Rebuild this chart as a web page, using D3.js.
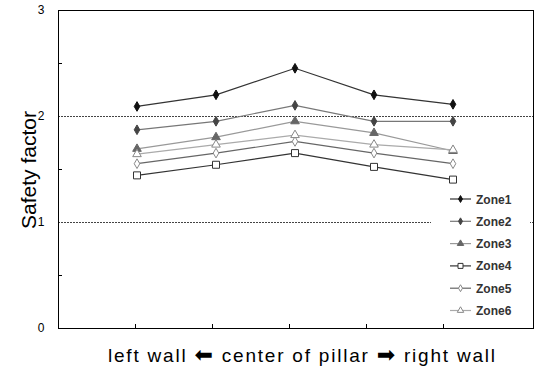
<!DOCTYPE html>
<html><head><meta charset="utf-8">
<script src="https://cdn.jsdelivr.net/npm/d3@7/dist/d3.min.js"></script>
<style>body{margin:0;background:#fff}svg{display:block}</style>
</head><body>
<svg id="c" width="536" height="372"></svg>
<script>
const positions = ["p1","p2","p3","p4","p5"];
const zone1 = [2.09, 2.20, 2.45, 2.20, 2.11];
const zone2 = [1.87, 1.95, 2.10, 1.95, 1.95];
const zone3 = [1.69, 1.80, 1.95, 1.84, 1.67];
const zone4 = [1.44, 1.54, 1.65, 1.52, 1.40];
const zone5 = [1.55, 1.65, 1.76, 1.65, 1.55];
const zone6 = [1.64, 1.73, 1.82, 1.73, 1.68];
const seriesNames = ["Zone1","Zone2","Zone3","Zone4","Zone5","Zone6"];
const yTickLabels = [0, 1, 2, 3];
const xTitleParts = ["left wall ", "\u2B05", " center of pillar ", "\u27A1", " right wall"];
const yTitle = "Safety factor";

const styles = [
  {line:"#333", marker:"diamond", fill:"#111", stroke:"#111", size:7},
  {line:"#777", marker:"diamond", fill:"#444", stroke:"#444", size:7},
  {line:"#999", marker:"triangle", fill:"#666", stroke:"#666", size:8},
  {line:"#333", marker:"square", fill:"#fff", stroke:"#333", size:7},
  {line:"#666", marker:"diamond", fill:"#fff", stroke:"#888", size:7},
  {line:"#aaa", marker:"triangle", fill:"#fff", stroke:"#888", size:8}
];
const data = [zone1, zone2, zone3, zone4, zone5, zone6];

const svg = d3.select("#c");
const L = 58, R = 533, T = 10, B = 328;
const x = d3.scalePoint().domain(positions).range([L, R - 1]).padding(1);
const xt = d3.scaleLinear().domain([0, 6]).range([L, 520]);
const y = d3.scaleLinear().domain([0, 3]).range([B, T]);

// gridlines
svg.append("g").selectAll("line").data([1, 2]).join("line")
  .attr("x1", L).attr("x2", R).attr("y1", d => Math.round(y(d)) + 0.5).attr("y2", d => Math.round(y(d)) + 0.5)
  .attr("stroke", "#444").attr("stroke-width", 1).attr("stroke-dasharray", "2,1");

// minor ticks on y axis (inside)
svg.append("g").selectAll("line").data([0.5, 1.5, 2.5]).join("line")
  .attr("x1", L).attr("x2", L + 4).attr("y1", d => Math.round(y(d)) + 0.5).attr("y2", d => Math.round(y(d)) + 0.5)
  .attr("stroke", "#000");
// x ticks inside
svg.append("g").selectAll("line").data([1, 2, 3, 4, 5]).join("line")
  .attr("x1", d => Math.round(xt(d)) + 0.5).attr("x2", d => Math.round(xt(d)) + 0.5)
  .attr("y1", B - 4).attr("y2", B).attr("stroke", "#000");

// frame
svg.append("rect").attr("x", L + 0.5).attr("y", T + 0.5).attr("width", R - L).attr("height", B - T)
  .attr("fill", "none").attr("stroke", "#000").attr("stroke-width", 1);

// y tick labels
svg.append("g").selectAll("text").data(yTickLabels).join("text")
  .attr("x", 41).attr("y", d => y(d) + 4).attr("text-anchor", "middle")
  .attr("font-family", "Liberation Sans, Arial, sans-serif").attr("font-size", 12)
  .attr("fill", "#000").text(d => d);

function markerPath(type, s) {
  if (type === "diamond") return d3.symbol().type(d3.symbolDiamond).size(s * s * 0.55)();
  if (type === "triangle") return d3.symbol().type(d3.symbolTriangle).size(s * s * 0.5)();
  return `M${-s/2},${-s/2}h${s}v${s}h${-s}z`;
}

const line = d3.line().x((d, i) => x(positions[i])).y(d => y(d));
data.forEach((vals, k) => {
  const st = styles[k];
  svg.append("path").datum(vals).attr("d", line).attr("fill", "none")
    .attr("stroke", st.line).attr("stroke-width", 1.2);
});
data.forEach((vals, k) => {
  const st = styles[k];
  svg.append("g").selectAll("path").data(vals).join("path")
    .attr("transform", (d, i) => `translate(${x(positions[i])},${y(d)})`)
    .attr("d", markerPath(st.marker, st.size))
    .attr("fill", st.fill).attr("stroke", st.stroke).attr("stroke-width", 1);
});

// legend
svg.append("rect").attr("x", 431).attr("y", 186).attr("width", 99).attr("height", 134).attr("fill", "#fff");
const lg = svg.append("g");
seriesNames.forEach((n, k) => {
  const st = styles[k];
  const ly = 199 + k * 22.3;
  lg.append("line").attr("x1", 450).attr("x2", 471).attr("y1", ly).attr("y2", ly)
    .attr("stroke", st.line).attr("stroke-width", 1.2);
  lg.append("path").attr("transform", `translate(460.5,${ly})`)
    .attr("d", markerPath(st.marker, st.size - 2))
    .attr("fill", st.fill).attr("stroke", st.stroke);
  lg.append("text").attr("x", 476).attr("y", ly + 4.5)
    .attr("font-family", "Liberation Sans Narrow, Arial Narrow, Liberation Sans, sans-serif")
    .attr("font-size", 12).attr("font-weight", "bold").attr("fill", "#333").text(n);
});

// axis titles
const xt2 = svg.append("text").attr("x", 108).attr("y", 362)
  .attr("font-family", "Liberation Sans, DejaVu Sans, sans-serif").attr("font-size", 19)
  .attr("textLength", 387).attr("lengthAdjust", "spacing")
  .attr("fill", "#000");
xTitleParts.forEach((p, i) => {
  xt2.append("tspan").attr("font-size", i % 2 ? 22 : 19).text(p);
});
svg.append("text").attr("transform", "translate(36,170) rotate(-90)").attr("text-anchor", "middle")
  .attr("font-family", "Liberation Sans, Arial, sans-serif").attr("font-size", 21)
  .attr("fill", "#000").text(yTitle);
</script>
</body></html>
